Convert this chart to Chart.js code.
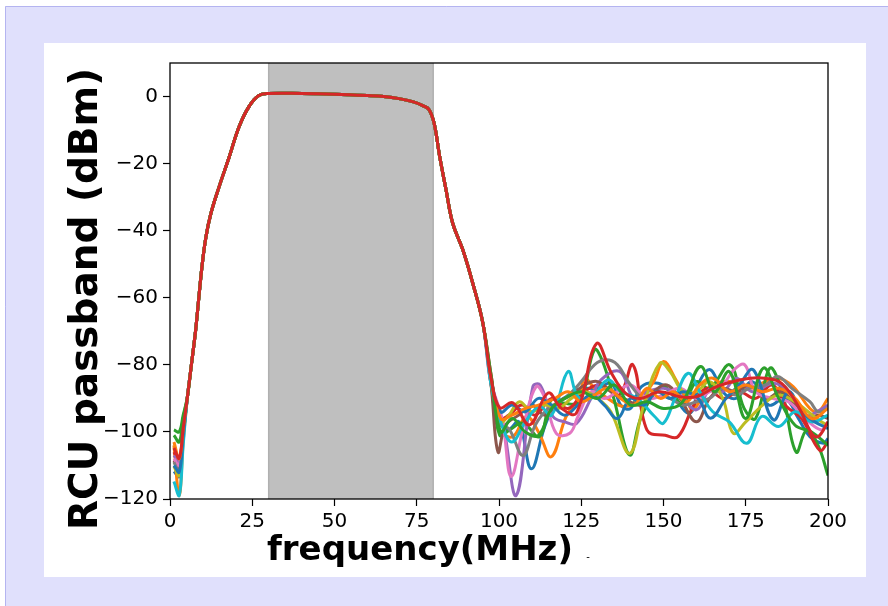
<!DOCTYPE html>
<html>
<head>
<meta charset="utf-8">
<script src="https://cdn.jsdelivr.net/npm/chart.js@4.4.1/dist/chart.umd.min.js"></script>
<style>
  html, body { margin: 0; padding: 0; background: #ffffff; }
  canvas { display: block; }
</style>
</head>
<body>
<canvas id="passband" width="888" height="606"></canvas>
<script>
// ---- RCU passband measurements (frequency in MHz, level in dBm) ----

const rcuNames = ['RCU 0', 'RCU 1', 'RCU 2', 'RCU 3', 'RCU 4', 'RCU 5', 'RCU 6',
                  'RCU 7', 'RCU 8', 'RCU 9', 'RCU 10', 'RCU 11', 'RCU 12', 'RCU 13'];
const rcuColors = ['#1f77b4', '#ff7f0e', '#2ca02c', '#d62728', '#9467bd', '#8c564b', '#e377c2',
                   '#7f7f7f', '#bcbd22', '#17becf', '#1f77b4', '#ff7f0e', '#2ca02c', '#d62728'];

// low-frequency start of each trace: levels at 1.2, 2.8 and 4 MHz
const headFreq  = [1.2, 2.8, 4.0];
const headStart = [-111.8, -104.0, -99.4, -106.0, -107.0, -108.5, -108.0, -109.0, -110.3, -114.8, -110.0, -103.0, -101.0, -104.8];
const headDip   = [-113.3, -119.0, -100.0, -109.0, -109.0, -111.0, -110.0, -112.0, -113.0, -118.9, -112.0, -108.0, -103.0, -107.8];
const headRise  = [-101.0, -103.0, -95.0, -99.0, -99.0, -100.0, -100.0, -101.0, -101.0, -104.0, -101.0, -99.0, -96.0, -99.0];

// filter response shared by all receivers (5 - 95 MHz)
const passbandFreq  = [5.3, 6.5, 7.8, 8.8, 9.8, 10.9, 12.4, 14.9, 18, 21, 24, 27, 30, 40, 50, 60, 65, 70,
                       74, 76.8, 78.8, 80.4, 81.9, 83.9, 85.9, 89, 92, 95.1];
const passbandLevel = [-89.5, -80, -69.6, -59.6, -50, -42, -35, -27, -18, -9, -3, 0.3, 0.9, 0.9, 0.7, 0.3, 0, -0.7,
                       -1.6, -2.7, -4, -8.5, -17.5, -27.8, -37.7, -45.7, -55.6, -67.6];

// stop-band noise floor of each receiver above 97 MHz: [MHz, dBm]
const tailRcu0 = [[97.6,-85],[100.2,-97],[102.7,-99.4],[106,-97],[109.8,-111],[113.9,-98.4],[117,-92],[120.4,-89.5],[123.5,-87.5],[127,-87],[130,-87],[134.2,-85.5],[137,-92],[140,-93],[143.3,-86.5],[148.4,-85.5],[152,-88],[158,-94.4],[161.2,-84.5],[164.3,-81.5],[168,-88],[172,-90],[177,-85],[182,-92],[187,-90],[191,-96],[194.5,-101.4],[198.6,-103.4],[200,-102]];
const tailRcu1 = [[97.6,-86],[100.2,-99.4],[104.2,-101.4],[108.3,-95.4],[112,-100],[115.9,-107.4],[120.4,-95.4],[124.5,-89.5],[126,-84],[129,-87],[133,-90],[138.2,-92.4],[143.3,-89.5],[147,-85],[150,-79],[153.5,-84],[157,-90.4],[159,-93.4],[164,-86.5],[170,-85],[176,-87],[181,-85],[185,-84],[189.4,-86.5],[194.5,-93],[197,-94],[200,-90]];
const tailRcu2 = [[97.6,-85],[100.2,-101],[103.2,-99.4],[107.3,-97.4],[112.3,-101.4],[115.9,-90.4],[119.4,-91.4],[124.5,-91],[129,-75.5],[131.5,-79],[135,-90.4],[139.7,-106.9],[143.3,-95.4],[149.4,-86.5],[153,-89],[156,-92],[160,-85],[164,-87],[170.2,-80],[174.5,-93],[178,-96],[182.3,-81],[186,-88],[190.3,-106],[193.5,-99.5],[197,-104],[200,-113]];
const tailRcu3 = [[97.6,-83],[100,-96],[103,-95],[107,-92],[111,-95],[116,-90],[121,-93],[126,-88],[131,-86],[136.5,-89],[140.7,-80],[145,-99.5],[150.5,-101],[154.4,-101.4],[159,-92.4],[163,-87],[168,-90],[173,-88],[178,-90],[183,-86],[187.4,-92.4],[192,-96],[197.5,-105.5],[200,-103]];
const tailRcu4 = [[97.6,-86],[101.2,-97.4],[105.2,-119],[110.3,-86.5],[112.5,-86],[116.4,-95.4],[120,-97],[123.5,-97.5],[128,-90],[131,-84.5],[136.7,-82],[141,-90],[145,-88],[150,-87],[155,-89],[160,-93.4],[164.3,-87],[168,-88],[172.2,-84],[177,-88],[183.4,-85.5],[188,-88],[193,-95],[197.6,-93.4],[200,-92]];
const tailRcu5 = [[97.6,-86],[99.7,-106],[102,-98],[106,-95],[110,-92],[114,-95],[118,-91],[122,-89],[126,-86],[130,-85],[134,-88],[138.7,-90.4],[143,-92],[147,-88],[151,-86],[155,-90],[160,-97],[164,-90],[168,-87],[172,-88],[176,-86],[181,-90],[186,-88],[190,-92],[194,-96],[197,-95],[200,-96]];
const tailRcu6 = [[97.6,-85],[101,-96.4],[103.7,-113.3],[107.5,-98],[111.3,-86.5],[114,-90],[117.4,-100.4],[121.5,-100.4],[124,-95.4],[128,-88],[132,-90],[136,-88],[140,-86],[145,-90],[150,-89],[155,-87],[160,-90],[164,-88],[168,-86],[171.4,-81.5],[174.7,-80],[178,-88],[183,-90],[188,-91],[193,-96],[198,-99.4],[200,-97]];
const tailRcu7 = [[97.6,-85],[100.5,-98],[103,-99],[107.3,-107],[111,-98],[115,-93],[120,-90],[125,-85],[129,-80],[132.6,-78.5],[136,-80],[140,-86],[144,-90],[148,-88],[152,-90],[156,-92],[160,-91],[164,-90],[168,-87],[172,-89],[176,-87],[181,-86],[184.7,-83.5],[189,-87],[194.5,-91],[197,-94],[200,-93]];
const tailRcu8 = [[97.6,-84],[100.5,-97],[103,-95],[106.2,-91],[110,-94],[114,-92],[118,-93],[122,-90],[126,-88],[130,-90],[134,-94],[139.7,-106.4],[144,-92],[148.9,-79.5],[152,-82],[156,-88],[160,-88],[164,-85],[168,-90],[171.2,-100.4],[175,-97],[180.8,-91.4],[185,-89],[190,-91],[194,-94],[198,-97],[200,-98]];
const tailRcu9 = [[97.6,-86],[100.5,-97],[103.9,-103],[108,-97],[112.3,-92.4],[116,-95],[121,-82],[124,-89.5],[128,-90],[133,-84.5],[137,-88],[142,-90],[147.3,-95.4],[150,-97.4],[153.5,-90],[157.5,-82.5],[161,-88],[165,-94],[170,-97],[175.3,-103.4],[179.8,-95.4],[185,-98.4],[190,-94],[195,-97],[200,-95]];
const tailRcu10 = [[97.6,-84],[100.5,-94],[104,-92],[108,-94],[112,-90],[116,-92],[120,-95],[124,-92],[128,-89],[132,-92],[136,-96],[140,-90],[144,-92],[148,-88],[152,-90],[156,-88],[160.5,-90],[164.3,-95.9],[169,-90],[173,-86],[177.3,-81.5],[183.4,-96.4],[188,-88],[192,-94],[196,-97],[200,-99]];
const tailRcu11 = [[97.6,-84],[100.5,-96],[104,-95],[108,-93],[112,-92],[117,-90],[121,-88],[125,-91],[129,-89],[133,-87],[137,-90],[141,-92],[145,-87],[149,-90],[153,-88],[157,-91],[161,-86],[165,-84],[170,-88],[175,-86],[180,-88],[185,-87],[190,-90],[195,-96],[200,-93]];
const tailRcu12 = [[97.6,-83],[100.5,-100],[104,-96],[108,-100],[112,-101],[116,-93],[120,-90],[125,-88],[130,-90],[135,-86],[140,-92],[145,-91],[150,-93],[155.5,-91.4],[161.2,-80.5],[165.5,-88],[170,-82],[175,-96],[180.3,-81],[185,-90],[190,-98],[195,-100],[200,-104]];
const tailRcu13 = [[97.6,-84],[100.2,-92.8],[104.2,-91.3],[109.3,-97.9],[114.9,-88.4],[118.9,-92.9],[123.5,-94.4],[129.6,-73.7],[134.2,-82.5],[138.5,-88.5],[143,-90],[148.9,-88],[155,-89.5],[160,-89.5],[165,-87],[169.2,-85.5],[176.3,-84],[180.8,-84],[185.9,-85.5],[191,-92.4],[195,-100.4],[197,-101.4],[200,-97]];

const tails = [tailRcu0, tailRcu1, tailRcu2, tailRcu3, tailRcu4, tailRcu5, tailRcu6,
               tailRcu7, tailRcu8, tailRcu9, tailRcu10, tailRcu11, tailRcu12, tailRcu13];

// analysis band highlighted on the plot (MHz)
const bandStart = 30;
const bandEnd = 80;

const xTitle = 'frequency(MHz)';
const yTitle = 'RCU passband (dBm)';

// ---- assemble datasets ----
function traceFor(i) {
  const pts = [
    { x: headFreq[0], y: headStart[i] },
    { x: headFreq[1], y: headDip[i] },
    { x: headFreq[2], y: headRise[i] }
  ];
  passbandFreq.forEach((f, k) => pts.push({ x: f, y: passbandLevel[k] }));
  tails[i].forEach(p => pts.push({ x: p[0], y: p[1] }));
  return pts;
}

const datasets = rcuNames.map((name, i) => ({
  label: name,
  data: traceFor(i),
  borderColor: rcuColors[i],
  backgroundColor: rcuColors[i],
  borderWidth: 3,
  pointRadius: 0,
  fill: false,
  tension: 0.4,
  order: rcuNames.length - 1 - i   // later receivers are painted on top
}));

// ---- page decoration, shaded band, frame and titles ----
const decor = {
  id: 'decor',
  beforeDraw(chart) {
    const ctx = chart.ctx;
    ctx.save();
    ctx.fillStyle = '#ffffff';
    ctx.fillRect(0, 0, 888, 606);
    ctx.fillStyle = '#e0e0fc';
    ctx.fillRect(5, 6, 883, 600);
    ctx.strokeStyle = '#b4b4f0';
    ctx.lineWidth = 1;
    ctx.beginPath();
    ctx.moveTo(5.5, 606); ctx.lineTo(5.5, 6.5); ctx.lineTo(888, 6.5);
    ctx.stroke();
    ctx.fillStyle = '#ffffff';
    ctx.fillRect(44, 43, 822, 534);
    ctx.restore();
  },
  beforeDatasetsDraw(chart) {
    const { ctx, chartArea: a, scales: { x } } = chart;
    const x0 = x.getPixelForValue(bandStart);
    const x1 = x.getPixelForValue(bandEnd);
    ctx.save();
    ctx.fillStyle = '#bfbfbf';
    ctx.fillRect(x0, a.top, x1 - x0, a.bottom - a.top);
    ctx.strokeStyle = '#b0b0b0';
    ctx.lineWidth = 1.5;
    ctx.beginPath();
    ctx.moveTo(x0, a.top); ctx.lineTo(x0, a.bottom);
    ctx.moveTo(x1, a.top); ctx.lineTo(x1, a.bottom);
    ctx.stroke();
    ctx.restore();
  },
  afterDatasetsDraw(chart) {
    const { ctx, chartArea: a } = chart;
    ctx.save();
    ctx.strokeStyle = '#000000';
    ctx.lineWidth = 1.3;
    ctx.strokeRect(a.left, a.top, a.right - a.left, a.bottom - a.top);
    ctx.restore();
  },
  afterDraw(chart) {
    const ctx = chart.ctx;
    ctx.save();
    ctx.fillStyle = '#000000';
    ctx.font = 'bold 34px "DejaVu Sans"';
    ctx.textAlign = 'center';
    ctx.textBaseline = 'alphabetic';
    ctx.fillText(xTitle, 420, 560);
    ctx.font = '10px "DejaVu Sans"';
    ctx.fillText('-', 588, 560);
    ctx.translate(97, 299);
    ctx.rotate(-Math.PI / 2);
    ctx.font = 'bold 39px "DejaVu Sans"';
    ctx.fillText(yTitle, 0, 0);
    ctx.restore();
  }
};

const tickFont = { family: 'DejaVu Sans', size: 20 };

new Chart(document.getElementById('passband'), {
  type: 'line',
  data: { datasets },
  options: {
    responsive: false,
    animation: false,
    devicePixelRatio: 1,
    layout: { padding: { top: 63, right: 60, left: 0, bottom: 0 } },
    plugins: { legend: { display: false }, tooltip: { enabled: false } },
    scales: {
      x: {
        type: 'linear',
        min: 0, max: 200,
        ticks: { stepSize: 25, font: tickFont, color: '#000000', padding: 4, maxRotation: 0 },
        grid: { display: true, drawOnChartArea: false, drawTicks: true, tickLength: 7, tickColor: '#000000', tickWidth: 1.2 },
        border: { display: false },
        afterFit(s) { s.height = 107; }
      },
      y: {
        type: 'linear',
        min: -120, max: 10,
        ticks: {
          stepSize: 20, includeBounds: false, font: tickFont, color: '#000000', padding: 5,
          callback: v => (v < 0 ? '\u2212' + Math.abs(v) : String(v))
        },
        grid: { display: true, drawOnChartArea: false, drawTicks: true, tickLength: 7, tickColor: '#000000', tickWidth: 1.2 },
        border: { display: false },
        afterFit(s) { s.width = 170; }
      }
    }
  },
  plugins: [decor]
});
</script>
</body>
</html>
